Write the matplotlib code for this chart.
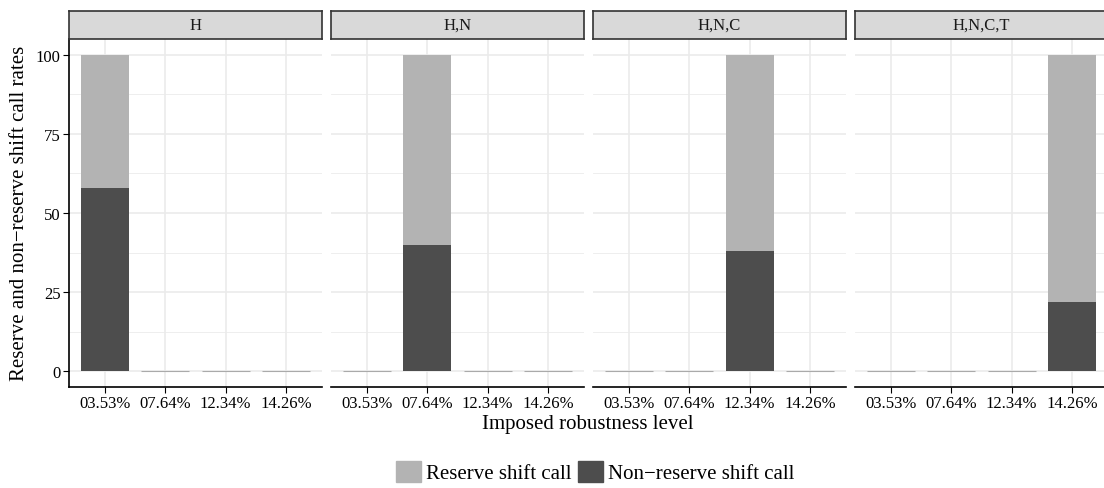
import numpy as np
import matplotlib.pyplot as plt
from matplotlib.patches import Patch

plt.rcParams['font.family'] = ['Liberation Serif', 'DejaVu Serif']

# donnees
panels = ['H', 'H,N', 'H,N,C', 'H,N,C,T']
levels = ['03.53%', '07.64%', '12.34%', '14.26%']
non_reserve = [[58, 0, 0, 0],
               [0, 40, 0, 0],
               [0, 0, 38, 0],
               [0, 0, 0, 22]]
total = [[100, 0, 0, 0],
         [0, 100, 0, 0],
         [0, 0, 100, 0],
         [0, 0, 0, 100]]
yticks = [0, 25, 50, 75, 100]

c_res = '#B3B3B3'
c_non = '#4D4D4D'
grid_c = '#EBEBEB'

W, H = 1104, 489
fig = plt.figure(figsize=(W / 100, H / 100), dpi=100)

def fx(px):
    return px / W

def fy(px):
    return 1 - px / H

x = np.arange(len(levels))
for i, name in enumerate(panels):
    left = 69 + i * 262
    ax = fig.add_axes([fx(left), fy(388), fx(253), (388 - 40) / H])
    nr = np.array(non_reserve[i])
    res = np.array(total[i]) - nr

    ax.set_xlim(-0.6, 3.6)
    ax.set_ylim(-5, 105)

    # grille
    for yv in [12.5, 37.5, 62.5, 87.5]:
        ax.axhline(yv, color=grid_c, lw=0.6, zorder=0)
    for yv in yticks:
        ax.axhline(yv, color=grid_c, lw=1.2, zorder=0)
    for xv in x:
        ax.axvline(xv, color=grid_c, lw=1.2, zorder=0)

    ax.bar(x, nr, width=0.8, color=c_non, zorder=2)
    ax.bar(x, res, width=0.8, bottom=nr, color=c_res, zorder=2)
    # barres nulles : trait fin
    zero = (nr + res) == 0
    ax.hlines(np.zeros(zero.sum()), x[zero] - 0.4, x[zero] + 0.4,
              color='#AAAAAA', lw=0.8, zorder=2)

    for s in ['top', 'right']:
        ax.spines[s].set_visible(False)
    ax.spines['bottom'].set_linewidth(1.2)
    ax.spines['left'].set_linewidth(1.2)
    ax.set_xticks(x)
    ax.set_xticklabels(levels, fontsize=12)
    ax.tick_params(axis='x', length=4, width=0.8, pad=2, colors='black')
    ax.set_yticks(yticks)
    if i == 0:
        ax.set_yticklabels([str(v) for v in yticks], fontsize=12)
        ax.tick_params(axis='y', length=4, width=0.8, pad=2)
    else:
        ax.spines['left'].set_visible(False)
        ax.tick_params(axis='y', length=0, labelleft=False)

    # bandeau
    sx = fig.add_axes([fx(left), fy(40), fx(253), 28 / H])
    sx.set_facecolor('#D9D9D9')
    sx.set_xticks([])
    sx.set_yticks([])
    for s in sx.spines.values():
        s.set_color('#333333')
        s.set_linewidth(1.2)
    sx.text(0.5, 0.5, name, ha='center', va='center', fontsize=12,
            color='#1A1A1A', transform=sx.transAxes)

fig.text(fx(588), fy(425), 'Imposed robustness level', ha='center',
         va='center', fontsize=15)
fig.text(fx(20), fy(213), 'Reserve and non\u2212reserve shift call rates',
         ha='center', va='center', rotation=90, fontsize=15)

handles = [Patch(color=c_res, label='Reserve shift call'),
           Patch(color=c_non, label='Non\u2212reserve shift call')]
fig.legend(handles=handles, loc='center', bbox_to_anchor=(fx(595), fy(473)),
           ncol=2, frameon=False, fontsize=15, handlelength=1.2,
           handleheight=1.2, handletextpad=0.25, columnspacing=0.3)

fig.savefig('out.png', dpi=100)
